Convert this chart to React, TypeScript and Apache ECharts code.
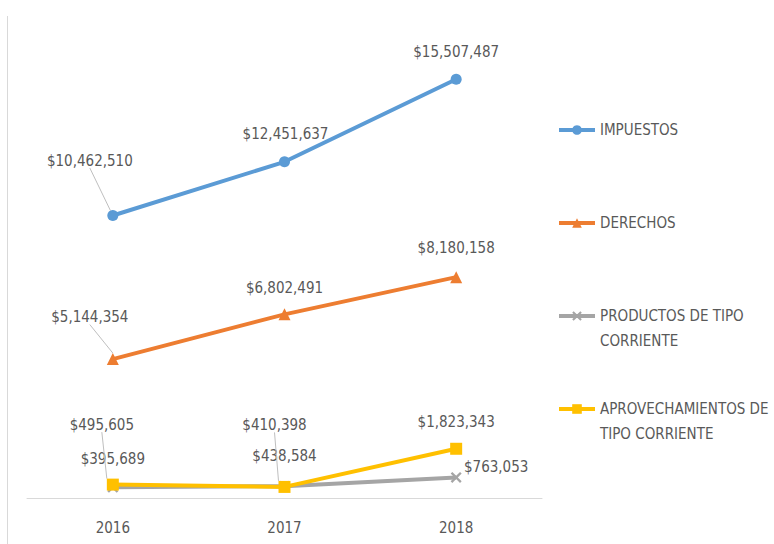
import React, { useEffect, useRef } from "react";
import * as echarts from "echarts";

const categories = ["2016", "2017", "2018"];
const seriesNames = [
  "IMPUESTOS",
  "DERECHOS",
  "PRODUCTOS DE TIPO CORRIENTE",
  "APROVECHAMIENTOS DE TIPO CORRIENTE",
];
const impuestos = [10462510, 12451637, 15507487];
const derechos = [5144354, 6802491, 8180158];
const productos = [395689, 438584, 763053];
const aprovechamientos = [495605, 410398, 1823343];

const legendFirstLines = ["IMPUESTOS", "DERECHOS", "PRODUCTOS DE TIPO", "APROVECHAMIENTOS DE"];
const legendSecondLines = ["", "", "CORRIENTE", "TIPO CORRIENTE"];

const colors = ["#5B9BD5", "#ED7D31", "#A5A5A5", "#FFC000"];
// label centre offsets relative to the point (style)
const labelOffsets = [
  [[-23, -55], [1, -28], [0, -27]],
  [[-23, -42], [0, -26], [0, -29]],
  [[0, -28], [0, -30], [40, -10]],
  [[-11, -60], [-10, -62], [0, -27]],
];
const leaderLines = [
  [true, false, false],
  [true, false, false],
  [false, false, false],
  [true, true, false],
];

const FONT = "'DejaVu Sans Condensed', 'Liberation Sans', sans-serif";
const TEXT = "#595959";
const FS = 15;
const crossPath =
  "path://M0,1.5 L1.5,0 L5,3.5 L8.5,0 L10,1.5 L6.5,5 L10,8.5 L8.5,10 L5,6.5 L1.5,10 L0,8.5 L3.5,5 Z";

const fmt = (v: number) => "$" + v.toLocaleString("en-US");

export default function App() {
  const ref = useRef<HTMLDivElement>(null);
  useEffect(() => {
    if (!ref.current) return;
    const chart = echarts.init(ref.current, null, { renderer: "svg" });
    const all = [impuestos, derechos, productos, aprovechamientos];
    const symbols = ["circle", "triangle", crossPath, "rect"];
    const symbolSizes = [11, 12, 11, 12];
    const series = all.map((vals, si) => ({
      name: seriesNames[si],
      type: "line",
      data: vals.map((v, di) => ({
        value: v,
        labelLine: { show: leaderLines[si][di] },
      })),
      symbol: symbols[si],
      symbolSize: symbolSizes[si],
      showAllSymbol: true,
      lineStyle: { color: colors[si], width: 4 },
      itemStyle: { color: colors[si] },
      label: {
        show: true,
        formatter: (p: any) => fmt(p.value),
        fontFamily: FONT,
        fontSize: FS,
        color: TEXT,
      },
      labelLine: {
        show: false,
        lineStyle: { color: "#BFBFBF", width: 1 },
      },
      labelLayout: (params: any) => {
        const o = labelOffsets[si][params.dataIndex];
        return {
          x: params.rect.x + params.rect.width / 2 + o[0],
          y: params.rect.y + params.rect.height / 2 + o[1],
          align: "center",
          verticalAlign: "middle",
        };
      },
      z: 2 + si,
    }));

    const legendCenters = [129, 222, 315, 408];
    const legends = seriesNames.map((n, i) => ({
      data: [n],
      orient: "vertical",
      left: 557,
      top: legendCenters[i] - 9,
      padding: 0,
      itemWidth: 36,
      itemHeight: 12,
      itemGap: 4,
      lineStyle: { width: 4 },
      formatter: () => legendFirstLines[i],
      textStyle: {
        fontFamily: FONT,
        fontSize: FS,
        color: TEXT,
        lineHeight: 20,
      },
      selectedMode: false,
    }));

    const secondLineGraphics = legendSecondLines
      .map((t, i) => ({ t, i }))
      .filter((o) => o.t)
      .map((o) => ({
        type: "text",
        left: 600,
        top: legendCenters[o.i] + 26 - 10,
        style: {
          text: o.t,
          fontFamily: FONT,
          fontSize: FS,
          fill: TEXT,
          lineHeight: 20,
        },
      }));

    chart.setOption({
      animation: false,
      grid: { left: 27, right: 232, top: 12, bottom: 46 },
      legend: legends,
      xAxis: {
        type: "category",
        data: categories,
        boundaryGap: true,
        axisLine: { lineStyle: { color: "#D9D9D9", width: 1 } },
        axisTick: { show: false },
        axisLabel: {
          fontFamily: FONT,
          fontSize: FS,
          color: TEXT,
          margin: 22,
        },
      },
      yAxis: {
        type: "value",
        min: 0,
        max: 18000000,
        interval: 2000000,
        show: false,
        splitLine: { show: false },
      },
      graphic: [
        {
          type: "line",
          shape: { x1: 7.5, y1: 16, x2: 7.5, y2: 544 },
          style: { stroke: "#D9D9D9", lineWidth: 1 },
        },
        ...secondLineGraphics,
      ],
      series,
    });
    return () => chart.dispose();
  }, []);
  return (
    <div
      ref={ref}
      style={{ position: "absolute", left: 0, top: 0, width: 774, height: 544 }}
    />
  );
}
